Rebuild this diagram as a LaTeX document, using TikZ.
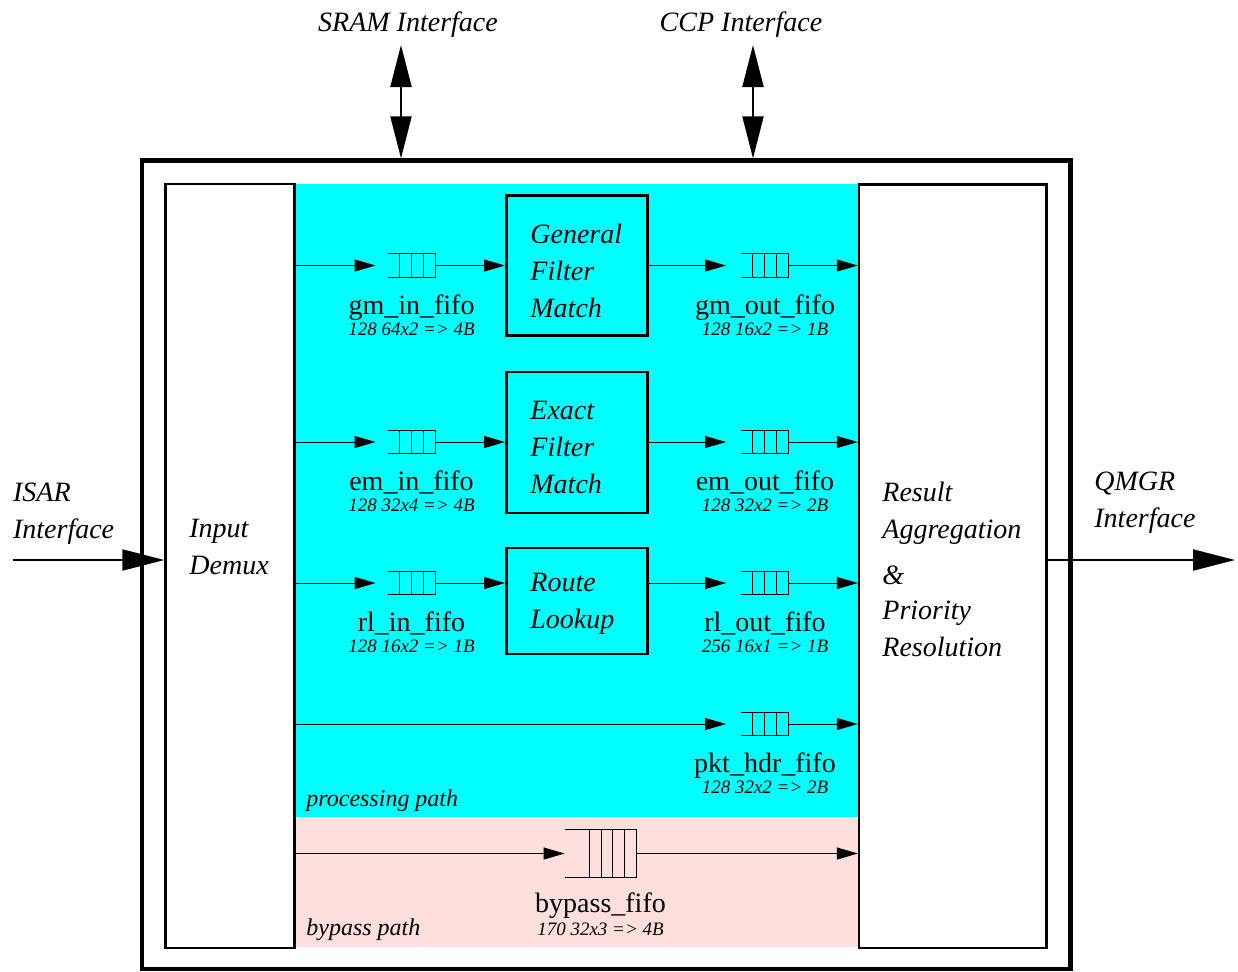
\documentclass[tikz,border=0pt]{standalone}
\usepackage{fontspec}
\setmainfont{Liberation Serif}
\usetikzlibrary{arrows.meta,positioning,calc}

\definecolor{procpath}{RGB}{0,255,255}
\definecolor{bypasspath}{RGB}{255,222,222}

\tikzset{
  flow/.style={-{Triangle[length=10.5pt,width=6pt]}, line width=0.5pt},
  ioflow/.style={-{Triangle[length=21pt,width=10.5pt]}, line width=1pt},
  iobus/.style={{Triangle[length=21pt,width=10.5pt]}-{Triangle[length=21pt,width=10.5pt]}, line width=1pt},
  pathbox/.style={draw, line width=1.15pt, inner sep=0pt},
  unit/.style={draw, line width=1.3pt, fill=procpath, inner sep=0pt},
  unittext/.style={anchor=north west, align=left, inner sep=0pt,
    font=\fontsize{14}{18.5}\selectfont\itshape},
  fifoname/.style={anchor=base, inner sep=0pt, font=\fontsize{14}{16}\selectfont},
  fifosize/.style={anchor=base, inner sep=0pt, font=\fontsize{9.5}{11}\selectfont\itshape},
  pathname/.style={anchor=base west, inner sep=0pt, font=\fontsize{12}{14}\selectfont\itshape},
}

% fifo symbol: name, centre, width, height, cells, cell width
\newcommand{\fifo}[6]{%
  \node[minimum width=#3, minimum height=#4, inner sep=0pt] (#1) at (#2) {};
  \draw[line width=0.5pt] (#1.north west) -- (#1.north east) -- (#1.south east) -- (#1.south west);
  \foreach \k in {1,...,#5}
    \draw[line width=0.5pt] ($(#1.north east)+(-\k*#6,0)$) -- ($(#1.south east)+(-\k*#6,0)$);
}

\begin{document}
\begin{tikzpicture}[x=0.5pt, y=-0.5pt]
  \useasboundingbox (0,0) rectangle (1238,971);

  % shaded paths
  \fill[procpath] (295.5,184) rectangle (858,817);
  \fill[bypasspath] (295.5,819) rectangle (858,947);

  % chip and side blocks
  \node[draw, line width=2.15pt, minimum width=464.25pt, minimum height=404.25pt] (chip) at (606.25,564.75) {};
  \node[pathbox, minimum width=64.5pt, minimum height=382pt] (demux) at (230,566) {};
  \node[pathbox, minimum width=93.75pt, minimum height=381.75pt] (result) at (952.75,566.25) {};

  \node[unittext] at (189,518.5) {Input\\Demux};
  \node[unittext] at (882,481.6) {Result\\Aggregation\\[4.5pt]\&\\[-0.75pt]Priority\\Resolution};

  % lookup engines
  \node[unit, minimum width=70.5pt, minimum height=70pt] (gfm) at (576.8,265.7) {};
  \node[unit, minimum width=70.5pt, minimum height=70.5pt] (efm) at (576.8,442.5) {};
  \node[unit, minimum width=70.5pt, minimum height=53pt] (rl) at (576.8,601) {};
  \node[unittext] at (530,224) {General\\Filter\\Match};
  \node[unittext] at (530,400.5) {Exact\\Filter\\Match};
  \node[unittext] at (530,572.5) {Route\\Lookup};

  % fifos
  \fifo{gmin}{411.5,265.5}{23.5pt}{11.5pt}{3}{6pt}
  \fifo{gmout}{765,265.5}{23.5pt}{11.5pt}{3}{6pt}
  \fifo{emin}{411.5,442}{23.5pt}{11.5pt}{3}{6pt}
  \fifo{emout}{765,442}{23.5pt}{11.5pt}{3}{6pt}
  \fifo{rlin}{411.5,583}{23.5pt}{11.5pt}{3}{6pt}
  \fifo{rlout}{765,583}{23.5pt}{11.5pt}{3}{6pt}
  \fifo{pkthdr}{765,724}{23.5pt}{11.5pt}{3}{6pt}
  \fifo{bypass}{600.5,853.5}{35.5pt}{23.5pt}{4}{5.9pt}

  \node[fifoname] at ([yshift=-24.25pt]gmin.center) {gm\_in\_fifo};
  \node[fifosize] at ([yshift=-34.75pt]gmin.center) {128 64x2 => 4B};
  \node[fifoname] at ([yshift=-24.25pt]gmout.center) {gm\_out\_fifo};
  \node[fifosize] at ([yshift=-34.75pt]gmout.center) {128 16x2 => 1B};
  \node[fifoname] at ([yshift=-24.25pt]emin.center) {em\_in\_fifo};
  \node[fifosize] at ([yshift=-34.75pt]emin.center) {128 32x4 => 4B};
  \node[fifoname] at ([yshift=-24.25pt]emout.center) {em\_out\_fifo};
  \node[fifosize] at ([yshift=-34.75pt]emout.center) {128 32x2 => 2B};
  \node[fifoname] at ([yshift=-24.25pt]rlin.center) {rl\_in\_fifo};
  \node[fifosize] at ([yshift=-34.75pt]rlin.center) {128 16x2 => 1B};
  \node[fifoname] at ([yshift=-24.25pt]rlout.center) {rl\_out\_fifo};
  \node[fifosize] at ([yshift=-34.75pt]rlout.center) {256 16x1 => 1B};
  \node[fifoname] at ([yshift=-24.25pt]pkthdr.center) {pkt\_hdr\_fifo};
  \node[fifosize] at ([yshift=-34.75pt]pkthdr.center) {128 32x2 => 2B};
  \node[fifoname] at ([yshift=-29.25pt]bypass.center) {bypass\_fifo};
  \node[fifosize] at ([yshift=-40.75pt]bypass.center) {170 32x3 => 4B};

  \node[pathname] at (306,806.7) {processing path};
  \node[pathname] at (306,935) {bypass path};

  % datapath connectors
  \foreach \fin/\eng/\fout in {gmin/gfm/gmout, emin/efm/emout, rlin/rl/rlout} {
    \draw[flow] (demux.east |- \fin.west) -- ([xshift=-6pt]\fin.west);
    \draw[flow] (\fin.east) -- (\fin.east -| \eng.west);
    \draw[flow] (\fin.east -| \eng.east) -- ([xshift=-7.5pt]\fout.west);
    \draw[flow] (\fout.east) -- (\fout.east -| result.west);
  }
  \draw[flow] (demux.east |- pkthdr.west) -- ([xshift=-7.5pt]pkthdr.west);
  \draw[flow] (pkthdr.east) -- (pkthdr.east -| result.west);
  \draw[flow] (demux.east |- bypass.west) -- (bypass.west);
  \draw[flow] (bypass.east) -- (bypass.east -| result.west);

  % external interfaces
  \coordinate (isar) at (12.7,560);
  \coordinate (qmgr) at (1235,560);
  \coordinate (sram) at (401,45);
  \coordinate (ccp) at (753,45);
  \draw[ioflow] (isar) -- (isar -| demux.west);
  \draw[ioflow] (qmgr -| result.east) -- (qmgr);
  \draw[iobus] (sram) -- (sram |- chip.north);
  \draw[iobus] (ccp) -- (ccp |- chip.north);

  \node[unittext] at (12.7,483) {ISAR\\Interface};
  \node[unittext] at (1094,471.5) {QMGR\\Interface};
  \node[unittext, anchor=base] at (408,31) {SRAM Interface};
  \node[unittext, anchor=base] at (741,31) {CCP Interface};
\end{tikzpicture}
\end{document}
